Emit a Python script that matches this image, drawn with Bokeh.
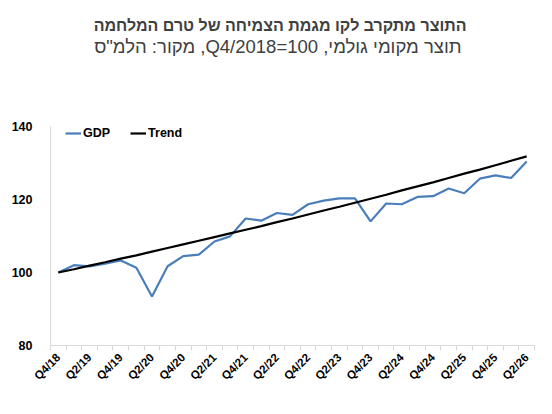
from bokeh.plotting import figure
from bokeh.models import Title, FixedTicker, Legend, LegendItem, Range1d
from bokeh.embed import file_html
from bokeh.resources import INLINE

title_text = "התוצר מתקרב לקו מגמת הצמיחה של טרם המלחמה"
subtitle_text = "\u202bתוצר מקומי גולמי, Q4/2018=100, מקור: הלמ\"ס\u202c"

quarters = ["Q4/18",
            "Q1/19", "Q2/19", "Q3/19", "Q4/19",
            "Q1/20", "Q2/20", "Q3/20", "Q4/20",
            "Q1/21", "Q2/21", "Q3/21", "Q4/21",
            "Q1/22", "Q2/22", "Q3/22", "Q4/22",
            "Q1/23", "Q2/23", "Q3/23", "Q4/23",
            "Q1/24", "Q2/24", "Q3/24", "Q4/24",
            "Q1/25", "Q2/25", "Q3/25", "Q4/25",
            "Q1/26", "Q2/26"]

gdp = [100.0, 102.0, 101.7, 102.4, 103.3, 101.3, 93.4, 101.7, 104.5, 104.9, 108.5,
       109.9, 114.8, 114.2, 116.3, 115.8, 118.7, 119.7, 120.3, 120.3,
       114.0, 118.9, 118.7, 120.7, 120.9, 123.0, 121.7, 125.7, 126.6, 125.9, 130.4]

trend = [100.0, 100.9, 101.9, 102.8, 103.8, 104.7, 105.7, 106.7, 107.7, 108.7, 109.7,
         110.7, 111.7, 112.7, 113.8, 114.8, 115.9, 117.0, 118.0, 119.1,
         120.2, 121.3, 122.5, 123.6, 124.7, 125.9, 127.1, 128.2, 129.4, 130.6, 131.8]

y_ticks = [80, 100, 120, 140]

FONT = "Liberation Sans"
xs = list(range(len(quarters)))

p = figure(width=550, height=412, output_backend="svg", toolbar_location=None,
           x_range=Range1d(-0.5, len(quarters) - 0.5), y_range=Range1d(80, 140),
           min_border_left=50, min_border_right=16, min_border_top=126, min_border_bottom=67)
p.outline_line_color = None
p.xgrid.visible = False
p.ygrid.visible = False

r_gdp = p.line(xs, gdp, line_color="#4a7ebb", line_width=2.2)
r_trend = p.line(xs, trend, line_color="#000000", line_width=2.2)

# x axis
label_idx = xs[::2]
p.xaxis.ticker = FixedTicker(ticks=label_idx,
                             minor_ticks=[i - 0.5 for i in range(len(quarters) + 1)])
p.xaxis.major_label_overrides = {i: quarters[i] for i in label_idx}
p.xaxis.major_label_orientation = 0.785398
p.xaxis.major_tick_line_color = None
p.xaxis.minor_tick_out = 5
p.xaxis.minor_tick_in = 0
p.xaxis.minor_tick_line_color = "#d9d9d9"
p.xaxis.axis_line_color = "#d9d9d9"
p.xaxis.major_label_text_font = FONT
p.xaxis.major_label_text_font_style = "bold"
p.xaxis.major_label_text_font_size = "11.5px"
p.xaxis.major_label_text_color = "#000000"
p.xaxis.major_label_standoff = 4

# y axis
p.yaxis.ticker = FixedTicker(ticks=y_ticks)
p.yaxis.major_tick_line_color = None
p.yaxis.minor_tick_line_color = None
p.yaxis.axis_line_color = "#d9d9d9"
p.yaxis.major_label_text_font = FONT
p.yaxis.major_label_text_font_style = "bold"
p.yaxis.major_label_text_font_size = "12.5px"
p.yaxis.major_label_text_color = "#000000"
p.yaxis.major_label_standoff = 12

legend = Legend(items=[LegendItem(label="GDP", renderers=[r_gdp]),
                       LegendItem(label="Trend", renderers=[r_trend])],
                orientation="horizontal", location=(15, 205),
                border_line_color=None, background_fill_alpha=0,
                padding=0, margin=0, spacing=20, glyph_width=16, glyph_height=14,
                label_height=14, label_standoff=2,
                label_text_font=FONT, label_text_font_style="bold",
                label_text_font_size="12.5px", label_text_color="#000000")
p.add_layout(legend)

p.title = None
spacer = Title(text=" ", align="center", standoff=67, text_font_size="1px")
sub = Title(text=subtitle_text, align="right", offset=73, standoff=0,
            text_font=FONT, text_font_style="normal", text_font_size="18.5px",
            text_color="#404040")
main = Title(text=title_text, align="right", offset=68, standoff=0,
             text_font=FONT, text_font_style="bold", text_font_size="16px",
             text_color="#404040")
p.add_layout(spacer, "above")
p.add_layout(sub, "above")
p.add_layout(main, "above")

open("out.html", "w").write(file_html(p, INLINE))
